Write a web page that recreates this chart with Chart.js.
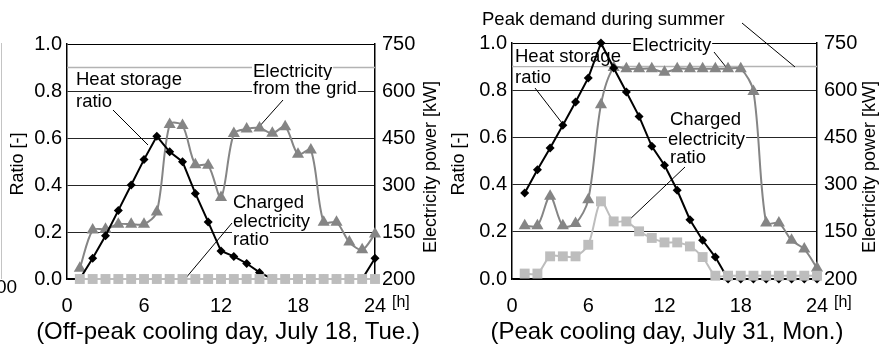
<!DOCTYPE html>
<html>
<head>
<meta charset="utf-8">
<script src="https://cdn.jsdelivr.net/npm/chart.js@4.4.1/dist/chart.umd.min.js"></script>
<style>
  body { margin: 0; background: #fff; }
  #wrap { position: relative; width: 890px; height: 345px; }
  canvas { position: absolute; top: 0; }
</style>
</head>
<body>
<div id="wrap">
  <canvas id="offPeak" width="445" height="345" style="left:0"></canvas>
  <canvas id="peak" width="445" height="345" style="left:445px"></canvas>
</div>
<script>
// hours of the day
const hours = [1, 2, 3, 4, 5, 6, 7, 8, 9, 10, 11, 12, 13, 14, 15, 16, 17, 18, 19, 20, 21, 22, 23, 24];

// off-peak cooling day, July 18
const offHeatRatio = [0.0, 0.088, 0.184, 0.292, 0.40, 0.508, 0.607, 0.541, 0.499, 0.364, 0.243, 0.119,
  0.096, 0.066, 0.028, 0, 0, 0, 0, 0, 0, 0, 0, 0.088];
const offGridKW = [34, 156, 159, 175, 175, 175, 214, 493, 490, 365, 363, 260,
  464, 479, 482, 465, 486, 398, 412, 181, 181, 118, 93, 144];
const offChargedRatio = [0, 0, 0, 0, 0, 0, 0, 0, 0, 0, 0, 0, 0, 0, 0, 0, 0, 0, 0, 0, 0, 0, 0, 0];

// peak cooling day, July 31
const peakHeatRatio = [0.364, 0.463, 0.555, 0.651, 0.75, 0.852, 1.0, 0.894, 0.792, 0.689, 0.562, 0.482,
  0.376, 0.251, 0.164, 0.093, 0, 0, 0, 0, 0, 0, 0, 0];
const peakGridKW = [169, 169, 263, 169, 176, 252, 554, 672, 668, 668, 668, 657,
  668, 668, 668, 668, 668, 668, 596, 178, 178, 123, 95, 35];
const peakChargedRatio = [0.023, 0.023, 0.096, 0.096, 0.096, 0.145, 0.329, 0.244, 0.244, 0.202, 0.174, 0.155,
  0.155, 0.138, 0.093, 0.014, 0.014, 0.014, 0.014, 0.014, 0.014, 0.014, 0.014, 0.014];

const peakDemandKW = 675;
const ratioTicks = [0, 0.2, 0.4, 0.6, 0.8, 1.0];
const powerTicks = ['200', '150', '300', '450', '600', '750']; // as printed, bottom label reads 200
const hourTicks = [0, 6, 12, 18, 24];

const FONT = "'Liberation Sans', Arial, sans-serif";

function xy(vals) {
  return hours.map((h, i) => ({ x: h, y: vals[i] }));
}

function note(ctx, text, x, y) {
  ctx.font = '18.5px ' + FONT;
  const w = ctx.measureText(text).width;
  ctx.fillStyle = '#fff';
  ctx.fillRect(x - 1, y - 14, w + 2, 18);
  ctx.fillStyle = '#000';
  ctx.textAlign = 'left';
  ctx.textBaseline = 'alphabetic';
  ctx.fillText(text, x, y);
}

function leader(ctx, x1, y1, x2, y2) {
  ctx.beginPath();
  ctx.moveTo(x1, y1);
  ctx.lineTo(x2, y2);
  ctx.strokeStyle = '#000';
  ctx.lineWidth = 1;
  ctx.stroke();
}

const overlay = {
  id: 'overlay',
  beforeDatasetsDraw(chart, args, opts) {
    const { ctx, chartArea, scales } = chart;
    ctx.save();
    // peak demand line
    const yp = scales.y1.getPixelForValue(peakDemandKW);
    ctx.beginPath();
    ctx.moveTo(chartArea.left, yp);
    ctx.lineTo(chartArea.right, yp);
    ctx.strokeStyle = '#b3b3b3';
    ctx.lineWidth = 1.5;
    ctx.stroke();
    opts.notes.forEach(n => note(ctx, n[0], n[1], n[2]));
    opts.leaders.forEach(l => leader(ctx, l[0], l[1], l[2], l[3]));
    ctx.restore();
  },
  afterDraw(chart, args, opts) {
    const { ctx, chartArea } = chart;
    ctx.save();
    ctx.fillStyle = '#000';
    ctx.font = '18px ' + FONT;
    ctx.textAlign = 'center';
    ctx.textBaseline = 'middle';
    ctx.save();
    ctx.translate(opts.leftTitleX, 164);
    ctx.rotate(-Math.PI / 2);
    ctx.fillText('Ratio [-]', 0, 0);
    ctx.restore();
    ctx.save();
    ctx.translate(opts.rightTitleX, 167);
    ctx.rotate(-Math.PI / 2);
    ctx.fillText('Electricity power [kW]', 0, 0);
    ctx.restore();
    ctx.font = '16px ' + FONT;
    ctx.textAlign = 'left';
    ctx.fillText('[h]', chartArea.right + 17, 303);
    ctx.font = '24px ' + FONT;
    ctx.textAlign = 'center';
    ctx.textBaseline = 'alphabetic';
    ctx.fillText(opts.caption, opts.captionX, 339);
    if (opts.edge) {
      ctx.beginPath();
      ctx.moveTo(1.5, 43);
      ctx.lineTo(1.5, 279);
      ctx.strokeStyle = '#c4c4c4';
      ctx.lineWidth = 1;
      ctx.stroke();
      ctx.font = '19px ' + FONT;
      ctx.textAlign = 'left';
      ctx.textBaseline = 'middle';
      ctx.fillText('00', -4, 288);
    }
    ctx.restore();
  }
};

function makeChart(id, heat, grid, charged, cfg) {
  const tickFont = { family: FONT, size: 20 };
  return new Chart(document.getElementById(id), {
    type: 'line',
    data: {
      datasets: [
        {
          label: 'Charged electricity ratio',
          data: xy(charged),
          yAxisID: 'y',
          borderColor: '#bdbdbd',
          backgroundColor: '#bdbdbd',
          borderWidth: 2,
          pointStyle: 'rect',
          pointRadius: 7,
          pointBorderWidth: 0,
          tension: 0.3,
          order: 0,
          clip: false
        },
        {
          label: 'Heat storage ratio',
          data: xy(heat),
          yAxisID: 'y',
          borderColor: '#000',
          backgroundColor: '#000',
          borderWidth: 2,
          pointStyle: 'rectRot',
          pointRadius: 4.5,
          pointBorderWidth: 0,
          tension: 0,
          order: 1,
          clip: false
        },
        {
          label: 'Electricity from the grid',
          data: xy(grid),
          yAxisID: 'y1',
          borderColor: '#858585',
          backgroundColor: '#858585',
          borderWidth: 2,
          pointStyle: 'triangle',
          pointRadius: 7,
          pointBorderWidth: 0,
          tension: 0.3,
          order: 2,
          clip: false
        }
      ]
    },
    options: {
      responsive: false,
      animation: false,
      layout: { padding: { top: cfg.top, left: 0, right: 0, bottom: 0 } },
      plugins: {
        legend: { display: false },
        tooltip: { enabled: false },
        overlay: cfg.overlay
      },
      scales: {
        x: {
          type: 'linear',
          min: 0, max: 24,
          afterBuildTicks: s => { s.ticks = hourTicks.map(v => ({ value: v })); },
          ticks: { font: tickFont, color: '#000', padding: 7, maxRotation: 0 },
          grid: { display: false },
          border: { color: '#000', width: 1.5 },
          afterFit: s => { s.height = 66; }
        },
        y: {
          position: 'left',
          min: 0, max: 1,
          afterBuildTicks: s => { s.ticks = ratioTicks.map(v => ({ value: v })); },
          ticks: { font: tickFont, color: '#000', padding: 5, callback: v => v.toFixed(1) },
          grid: {
            drawTicks: false,
            lineWidth: 1,
            color: c => (c.tick && (c.tick.value === 1 || c.tick.value === 0)) ? '#000' : '#262626'
          },
          border: { color: '#000', width: 1.5 },
          afterFit: s => { s.width = 67; }
        },
        y1: {
          position: 'right',
          min: 0, max: 750,
          afterBuildTicks: s => { s.ticks = powerTicks.map((t, i) => ({ value: i * 150 })); },
          ticks: { font: tickFont, color: '#000', padding: 7, callback: (v, i) => powerTicks[i] },
          grid: { drawOnChartArea: false, drawTicks: false },
          border: { color: '#000', width: 1.5 },
          afterFit: s => { s.width = cfg.rightWidth; }
        }
      }
    },
    plugins: [overlay]
  });
}

makeChart('offPeak', offHeatRatio, offGridKW, offChargedRatio, {
  top: 44,
  rightWidth: 70,
  overlay: {
    caption: '(Off-peak cooling day, July 18, Tue.)',
    captionX: 228,
    leftTitleX: 18,
    rightTitleX: 431,
    edge: true,
    notes: [
      ['Heat storage', 76, 85], ['ratio', 76, 107],
      ['Electricity', 253, 77], ['from the grid', 253, 94],
      ['Charged', 233, 208], ['electricity', 233, 227], ['ratio', 233, 245]
    ],
    leaders: [
      [113, 110, 148, 145],
      [283, 100, 258, 128],
      [232, 223, 185, 279]
    ]
  }
});

makeChart('peak', peakHeatRatio, peakGridKW, peakChargedRatio, {
  top: 43,
  rightWidth: 73,
  overlay: {
    caption: '(Peak cooling day, July 31, Mon.)',
    captionX: 222,
    leftTitleX: 14,
    rightTitleX: 425,
    edge: false,
    notes: [
      ['Peak demand during summer', 37, 25],
      ['Electricity', 187, 51],
      ['Heat storage', 70, 62], ['ratio', 70, 83],
      ['Charged', 225, 125], ['electricity', 223, 145], ['ratio', 225, 163]
    ],
    leaders: [
      [297, 23, 350, 67],
      [269, 52, 281, 67],
      [90, 88, 117, 123],
      [240, 167, 182, 222]
    ]
  }
});
</script>
</body>
</html>
